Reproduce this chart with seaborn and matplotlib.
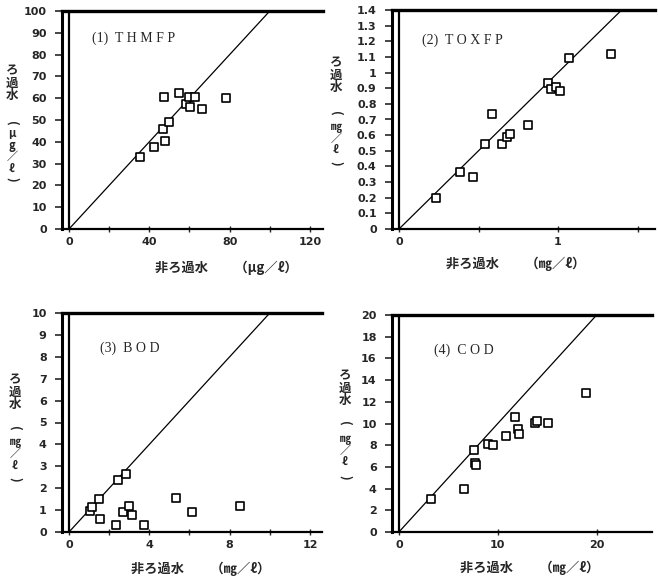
import numpy as np
import pandas as pd
import seaborn as sns
import matplotlib.pyplot as plt

# -----------------------------
# DATA
# -----------------------------
thm_x = [35.4, 42.3, 46.6, 47.9, 47.3, 49.8, 54.8, 58.1, 59.9, 60.2, 62.9, 66.2, 78.0]
thm_y = [33.2, 37.8, 45.7, 40.4, 60.7, 49.1, 62.4, 57.2, 60.4, 55.8, 60.4, 55.0, 60.1]

tox_x = [0.233, 0.382, 0.464, 0.544, 0.584, 0.647, 0.681, 0.697, 0.811, 0.937, 0.958, 0.989, 1.010, 1.069, 1.336]
tox_y = [0.196, 0.367, 0.330, 0.541, 0.735, 0.541, 0.590, 0.610, 0.665, 0.932, 0.896, 0.906, 0.885, 1.094, 1.119]

bod_x = [1.05, 1.16, 1.50, 1.54, 2.33, 2.44, 2.82, 2.71, 2.99, 3.14, 3.72, 5.35, 6.11, 8.54]
bod_y = [0.97, 1.14, 1.51, 0.59, 0.30, 2.36, 2.66, 0.90, 1.19, 0.76, 0.30, 1.57, 0.90, 1.20]

cod_x = [3.2, 6.58, 7.55, 7.72, 7.76, 8.97, 9.51, 10.83, 11.77, 12.01, 12.14, 13.73, 13.93, 15.11, 18.89]
cod_y = [3.07, 3.93, 7.52, 6.32, 6.13, 8.10, 8.01, 8.87, 10.58, 9.48, 8.99, 10.09, 10.25, 10.03, 12.79]

titles = ["(1)  T H M F P", "(2)  T O X F P", "(3)  B O D", "(4)  C O D"]
units = ["μg/ℓ", "㎎/ℓ", "㎎/ℓ", "㎎/ℓ"]
line_max = [100, 1.4, 10, 20]

x_ticks = [[0, 20, 40, 60, 80, 100, 120], [0, 0.5, 1, 1.5], [0, 2, 4, 6, 8, 10, 12], [0, 10, 20]]
x_ticklabels = [["0", "", "40", "", "80", "", "120"], ["0", "", "1", ""],
                ["0", "", "4", "", "8", "", "12"], ["0", "10", "20"]]
y_ticks = [list(range(0, 101, 10)), [i / 10 for i in range(15)], list(range(0, 11)), list(range(0, 21, 2))]
y_ticklabels = [[str(v) for v in y_ticks[0]],
                ["0", "0.1", "0.2", "0.3", "0.4", "0.5", "0.6", "0.7", "0.8", "0.9", "1", "1.1", "1.2", "1.3", "1.4"],
                [str(v) for v in y_ticks[2]], [str(v) for v in y_ticks[3]]]
x_lims = [(-3.5, 126.5), (-0.044, 1.61), (-0.35, 12.6), (-0.7, 25.6)]

panels = [(thm_x, thm_y), (tox_x, tox_y), (bod_x, bod_y), (cod_x, cod_y)]

# -----------------------------
# PLOT
# -----------------------------
sns.set_style("white")
plt.rcParams['font.family'] = ['Noto Sans CJK JP', 'DejaVu Sans']

fig = plt.figure(figsize=(6.58, 5.82), dpi=100)
W, H = 658, 582

# axes boxes in pixels: left, top, right, bottom
boxes = [(62, 11, 323, 229), (392, 10, 655, 229), (62, 313, 322, 532), (392, 315, 652, 532)]
# y-label: x, center of "ろ過水", top and bottom of the unit block
ylab_pos = [(12, 83, 120, 182), (336, 75, 110, 166), (15, 392, 425, 482), (345, 388, 420, 480)]
xlab_pos = [(226, 268), (516, 264), (201, 569), (530, 568)]
title_pos = [(92, 38), (422, 40), (100, 348), (434, 350)]

for i, (xs, ys) in enumerate(panels):
    l, t, r, b = boxes[i]
    ax = fig.add_axes([l / W, 1 - b / H, (r - l) / W, (b - t) / H])
    df = pd.DataFrame({"x": xs, "y": ys})

    # 1:1 reference line
    sns.lineplot(x=[0, line_max[i]], y=[0, line_max[i]], ax=ax, color="black", linewidth=0.9)
    sns.scatterplot(data=df, x="x", y="y", ax=ax, marker="s", s=30,
                    color="white", edgecolor="black", linewidth=1.2, zorder=3)

    ax.axvline(0, color="black", linewidth=1.6)
    ax.set_xlim(*x_lims[i])
    ax.set_ylim(y_ticks[i][0], y_ticks[i][-1])
    ax.set_xticks(x_ticks[i])
    ax.set_xticklabels(x_ticklabels[i], fontsize=8, fontweight="bold", family="DejaVu Sans")
    ax.set_yticks(y_ticks[i])
    ax.set_yticklabels(y_ticklabels[i], fontsize=8, fontweight="bold", family="DejaVu Sans")
    ax.tick_params(axis="y", direction="out", length=5, width=1.2, pad=6, left=True)
    ax.tick_params(axis="x", direction="inout", length=5, width=1, pad=3, bottom=True)
    ax.set_xlabel("")
    ax.set_ylabel("")

    ax.spines["right"].set_visible(False)
    ax.spines["top"].set_linewidth(2.4)
    ax.spines["left"].set_linewidth(2.2)
    ax.spines["bottom"].set_linewidth(1.6)
    for s in ax.spines.values():
        s.set_color("black")

    tx, ty = title_pos[i]
    fig.text(tx / W, 1 - ty / H, titles[i], fontsize=10, family="Liberation Serif",
             ha="left", va="center")

    # vertical y-label: ろ過水 + (unit)
    yx, yc, ut, ub = ylab_pos[i]
    fig.text(yx / W, 1 - yc / H, "ろ\n過\n水", fontsize=9, fontweight="bold",
             ha="center", va="center", linespacing=0.95)
    fig.text(yx / W, 1 - (ut + 3) / H, "(", fontsize=9, fontweight="bold",
             rotation=-90, ha="center", va="center")
    fig.text(yx / W, 1 - (ub - 3) / H, ")", fontsize=9, fontweight="bold",
             rotation=-90, ha="center", va="center")
    fig.text(yx / W, 1 - (ut + ub) / 2 / H, "\n".join(units[i].replace("/", "／")),
             fontsize=8, fontweight="bold", ha="center", va="center", linespacing=0.85)

    xx, xy = xlab_pos[i]
    fig.text(xx / W, 1 - xy / H, "非ろ過水　　（" + units[i].replace("/", "／") + "）",
             fontsize=9.5, fontweight="bold", ha="center", va="center")

fig.savefig("out.png", dpi=100)
